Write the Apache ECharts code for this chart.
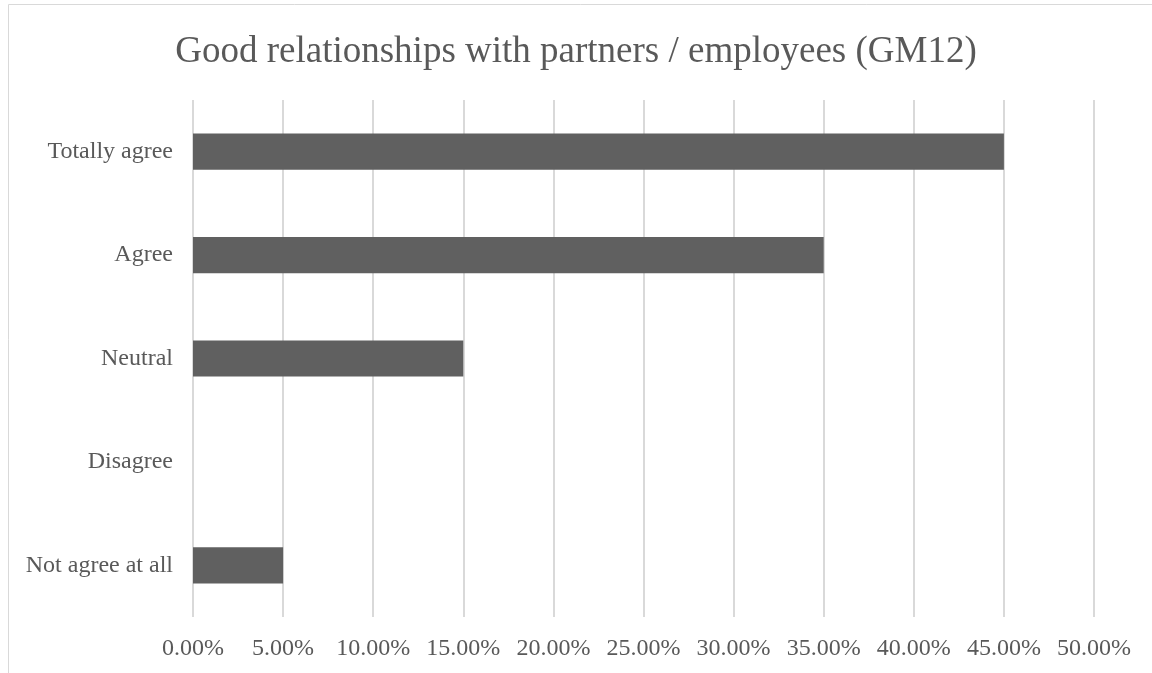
<!DOCTYPE html>
<html><head><meta charset="utf-8">
<script src="https://cdn.jsdelivr.net/npm/echarts@6/dist/echarts.min.js"></script>
<style>html,body{margin:0;padding:0;background:#fff}#c{width:1152px;height:673px}</style>
</head><body><div id="c"></div>
<script>
const categories = ["Totally agree", "Agree", "Neutral", "Disagree", "Not agree at all"];
const values = [45, 35, 15, 0, 5];
const titleText = "Good relationships with partners / employees (GM12)";

const chart = echarts.init(document.getElementById('c'));
chart.setOption({
  animation: false,
  title: {
    text: titleText, left: 'center', top: 29,
    textStyle: { fontFamily: 'Liberation Serif', fontSize: 37, fontWeight: 'normal', color: '#595959' }
  },
  graphic: [{
    type: 'rect', shape: { x: 8.5, y: 4.5, width: 1200, height: 800 },
    style: { fill: 'none', stroke: '#d9d9d9', lineWidth: 1 }, silent: true
  }],
  grid: { left: 193, right: 58, top: 100, bottom: 56, containLabel: false },
  xAxis: {
    type: 'value', min: 0, max: 50, interval: 5,
    axisLine: { show: false }, axisTick: { show: false },
    splitLine: { lineStyle: { color: '#d9d9d9', width: 2 } },
    axisLabel: { formatter: v => v.toFixed(2) + '%', margin: 20,
      fontFamily: 'Liberation Serif', fontSize: 24, color: '#595959' }
  },
  yAxis: {
    type: 'category', data: categories, inverse: true,
    axisLine: { show: false }, axisTick: { show: false },
    axisLabel: { margin: 20, fontFamily: 'Liberation Serif', fontSize: 24, color: '#595959' }
  },
  series: [{
    type: 'bar', data: values, barWidth: '35%',
    itemStyle: { color: '#606060' }
  }]
});
</script></body></html>
